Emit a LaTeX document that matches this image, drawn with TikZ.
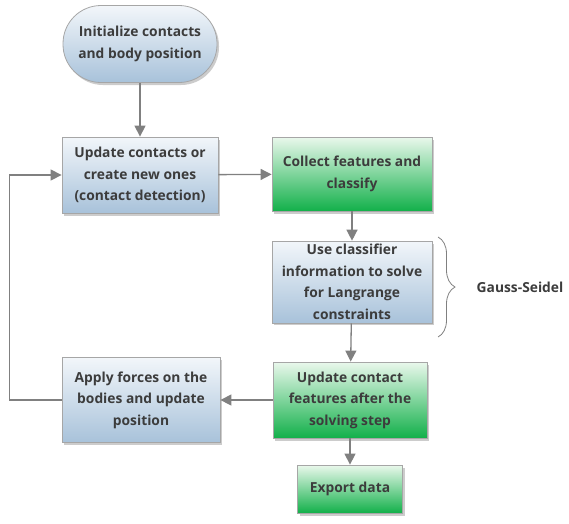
\documentclass[tikz,border=0pt]{standalone}
\usepackage{fontspec}
\setmainfont{Open Sans}
\usetikzlibrary{shadows,arrows.meta,decorations.pathreplacing}

\definecolor{txtgray}{HTML}{3C3C3C}
\definecolor{linegray}{HTML}{808080}
\definecolor{boxedge}{HTML}{A6A6A6}
\definecolor{blueTop}{HTML}{F2F6FA}
\definecolor{blueBot}{HTML}{A8C2DA}
\definecolor{greenTop}{HTML}{EAF8EC}
\definecolor{greenBot}{HTML}{12B04A}

\tikzset{
  stepbox/.style={draw=boxedge, line width=0.8pt, align=center,
    font=\bfseries\fontsize{13.8}{21.5}\selectfont, text=txtgray,
    drop shadow={shadow xshift=2pt, shadow yshift=-2.5pt, opacity=0.4}},
  bluebox/.style={stepbox, top color=blueTop, bottom color=blueBot},
  greenbox/.style={stepbox, top color=greenTop, bottom color=greenBot},
  flow/.style={draw=linegray, line width=1.3pt,
    -{Triangle[length=11pt,width=11pt]}},
}

\begin{document}
\begin{tikzpicture}[x=1pt,y=1pt]
  \useasboundingbox (0,0) rectangle (569,-523);

  %% steps of the loop
  \node[bluebox, rounded corners=38pt, minimum width=154pt, minimum height=77pt]
    (init) at (140,-44) {Initialize contacts\\and body position};
  \node[bluebox, minimum width=156pt, minimum height=76pt]
    (update) at (140,-175) {Update contacts or\\create new ones\\(contact detection)};
  \node[greenbox, minimum width=160pt, minimum height=74pt]
    (collect) at (352,-174) {Collect features and\\classify};
  \node[bluebox, minimum width=160pt, minimum height=76pt]
    (solve) at (352,-282) {Use classifier\\information to solve\\for Langrange\\constraints};
  \node[greenbox, minimum width=154pt, minimum height=76pt]
    (features) at (350,-400) {Update contact\\features after the\\solving step};
  \node[bluebox, minimum width=158pt, minimum height=85pt]
    (apply) at (141,-400) {Apply forces on the\\bodies and update\\position};
  \node[greenbox, minimum width=105pt, minimum height=48pt]
    (export) at (350,-489) {Export data};

  %% connectors
  \draw[flow] (init) -- (update);
  \draw[flow] (update) -- (collect);
  \draw[flow] (collect) -- (solve);
  \draw[flow] (solve) -- (features);
  \draw[flow] (features) -- (apply);
  \draw[flow] (features) -- (export);
  \draw[flow] (apply.west) -- ++(-52,0) |- (update.west); %% back to detection

  %% Gauss-Seidel brace
  \coordinate (gstop) at (438,-237);
  \coordinate (gsbot) at (438,-337);
  \draw[linegray, line width=0.8pt,
    decorate, decoration={brace, amplitude=17pt}] (gstop) -- (gsbot);
  \node[font=\bfseries\fontsize{13.8}{16}\selectfont, text=txtgray]
    (gslabel) at (520,-287) {Gauss-Seidel};
\end{tikzpicture}
\end{document}
